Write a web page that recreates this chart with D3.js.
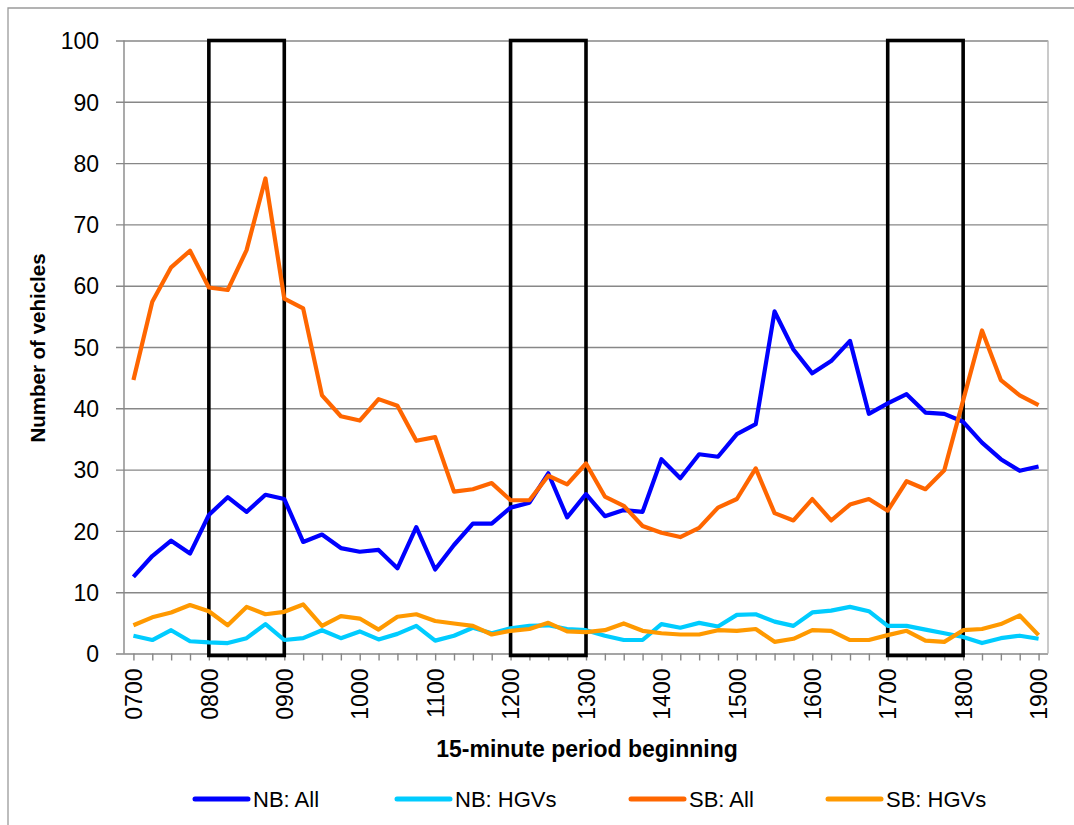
<!DOCTYPE html>
<html>
<head>
<meta charset="utf-8">
<script src="https://cdn.jsdelivr.net/npm/d3@7"></script>
<style>
  body { margin: 0; background: #fff; }
  text { font-family: "Liberation Sans", Arial, sans-serif; fill: #000; }
</style>
</head>
<body>
<svg width="1074" height="825"></svg>
<script>
// 15 minute periods, 0700 .. 1900
var periods = ["0700","0715","0730","0745","0800","0815","0830","0845","0900","0915","0930","0945",
               "1000","1015","1030","1045","1100","1115","1130","1145","1200","1215","1230","1245",
               "1300","1315","1330","1345","1400","1415","1430","1445","1500","1515","1530","1545",
               "1600","1615","1630","1645","1700","1715","1730","1745","1800","1815","1830","1845","1900"];

var tickLabels = ["0700","0800","0900","1000","1100","1200","1300","1400","1500","1600","1700","1800","1900"];
var yTicks = [0, 10, 20, 30, 40, 50, 60, 70, 80, 90, 100];

// peak hours boxed on the chart
var peakHours = [["0800", "0900"], ["1200", "1300"], ["1700", "1800"]];

var nbAll = [12.5,15.9,18.4,16.3,22.6,25.5,23.1,25.9,25.2,18.2,
             19.4,17.2,16.6,16.9,13.9,20.6,13.7,17.7,21.2,21.2,
             23.8,24.6,29.4,22.2,26.0,22.4,23.4,23.1,31.7,28.6,
             32.5,32.1,35.8,37.4,55.8,49.6,45.7,47.7,51.0,39.1,
             40.8,42.3,39.3,39.1,37.8,34.4,31.7,29.8,30.5];

var nbHgv = [2.9,2.2,3.8,2.0,1.8,1.7,2.5,4.8,2.2,2.5,
             3.8,2.5,3.6,2.3,3.2,4.5,2.1,2.9,4.2,3.3,
             4.1,4.5,4.6,4.0,3.8,2.9,2.2,2.2,4.8,4.2,
             5.0,4.4,6.3,6.4,5.2,4.5,6.7,7.0,7.6,6.9,
             4.5,4.5,3.9,3.3,2.7,1.7,2.5,2.9,2.4];

var sbAll = [44.6,57.4,63.0,65.7,59.7,59.3,65.8,77.5,57.9,56.3,
             42.1,38.7,38.0,41.5,40.4,34.7,35.3,26.4,26.8,27.8,
             25.0,25.0,29.0,27.6,31.0,25.6,24.1,20.8,19.7,19.0,
             20.5,23.8,25.2,30.2,22.9,21.7,25.2,21.7,24.3,25.2,
             23.3,28.1,26.8,29.9,41.3,52.7,44.6,42.1,40.5];

var sbHgv = [4.6,5.9,6.7,7.9,6.9,4.6,7.6,6.4,6.8,8.0,
             4.5,6.1,5.7,3.9,6.0,6.4,5.3,4.9,4.5,3.1,
             3.7,4.0,5.0,3.6,3.5,3.8,4.9,3.7,3.3,3.1,
             3.1,3.8,3.7,4.0,1.9,2.4,3.8,3.7,2.2,2.2,
             3.0,3.7,2.1,1.9,3.8,4.0,4.8,6.2,3.0];

var seriesNames = ["NB: All", "NB: HGVs", "SB: All", "SB: HGVs"];
var seriesColors = ["#0000ff", "#00ccff", "#ff6600", "#ff9900"];

var series = [nbAll, nbHgv, sbAll, sbHgv].map(function(vals, k) {
  return { name: seriesNames[k], color: seriesColors[k], values: vals };
});

// plot area box (note: "top" is taken by window.top, so prefix these)
var plotLeft = 124, plotRight = 1048, plotTop = 40.5, plotBottom = 653.5;

var svg = d3.select("svg");

// outer chart frame (right and bottom edges fall outside the picture)
svg.append("path")
    .attr("d", "M8,830 V8 H1080")
    .attr("fill", "none")
    .attr("stroke", "#9a9a9a")
    .attr("stroke-width", 1.3);

var x = d3.scalePoint()
          .domain(periods)
          .range([plotLeft, plotRight])
          .padding(0.5);

var y = d3.scaleLinear()
          .domain([0, 100])
          .range([plotBottom, plotTop]);

// horizontal gridlines + y ticks
var yAxis = d3.axisLeft(y)
              .tickValues(yTicks)
              .tickSize(-(plotRight - plotLeft))
              .tickPadding(25)
              .tickFormat(d3.format("d"));

var gy = svg.append("g")
    .attr("transform", "translate(" + plotLeft + ",0)")
    .call(yAxis);
gy.select(".domain").remove();
gy.selectAll(".tick line")
    .attr("x1", -8)
    .attr("stroke", "#878787")
    .attr("stroke-width", 1.4);
gy.selectAll(".tick text")
    .attr("x", -25)
    .style("font-size", "23px")
    .attr("dy", "0.36em");

// y axis line and right edge of plot area
svg.append("line")
    .attr("x1", plotLeft).attr("x2", plotLeft)
    .attr("y1", plotTop).attr("y2", plotBottom)
    .attr("stroke", "#878787").attr("stroke-width", 1.4);
svg.append("line")
    .attr("x1", plotRight).attr("x2", plotRight)
    .attr("y1", plotTop).attr("y2", plotBottom)
    .attr("stroke", "#b4b4b4").attr("stroke-width", 1.4);

// x axis: a tick at every period, label every hour
var xAxis = d3.axisBottom(x)
              .tickSize(7)
              .tickFormat(d => tickLabels.indexOf(d) >= 0 ? d : "");

var gx = svg.append("g")
    .attr("transform", "translate(0," + plotBottom + ")")
    .call(xAxis);
gx.select(".domain").remove();
gx.selectAll(".tick line")
    .attr("stroke", "#878787")
    .attr("stroke-width", 1.4);
gx.selectAll(".tick text")
    .style("font-size", "23px")
    .attr("text-anchor", "end")
    .attr("transform", "rotate(-90)")
    .attr("x", -15)
    .attr("y", 0)
    .attr("dy", "0.36em");

// peak hour boxes (behind the lines)
svg.selectAll(".peak")
  .data(peakHours)
  .enter()
    .append("rect")
    .classed("peak", true)
    .attr("x", d => x(d[0]))
    .attr("y", plotTop)
    .attr("width", d => x(d[1]) - x(d[0]))
    .attr("height", plotBottom - plotTop + 2)
    .attr("fill", "none")
    .attr("stroke", "#000")
    .attr("stroke-width", 3.6);

var line = d3.line()
             .x((d, i) => x(periods[i]))
             .y(d => y(d));

svg.selectAll(".series")
  .data(series)
  .enter()
    .append("path")
    .classed("series", true)
    .attr("d", d => line(d.values))
    .attr("fill", "none")
    .attr("stroke", d => d.color)
    .attr("stroke-width", 4.2)
    .attr("stroke-linejoin", "round");

// axis titles
svg.append("text")
    .attr("transform", "translate(45,348) rotate(-90)")
    .attr("text-anchor", "middle")
    .style("font-size", "20.5px")
    .style("font-weight", "bold")
    .text("Number of vehicles");

svg.append("text")
    .attr("x", 587)
    .attr("y", 757)
    .attr("text-anchor", "middle")
    .style("font-size", "23px")
    .style("font-weight", "bold")
    .text("15-minute period beginning");

// legend
var legendX = [195, 397, 631, 828];
var legend = svg.selectAll(".legend")
  .data(series)
  .enter()
    .append("g")
    .classed("legend", true)
    .attr("transform", (d, i) => "translate(" + legendX[i] + ",799)");

legend.append("line")
    .attr("x1", 0).attr("x2", 53)
    .attr("stroke", d => d.color)
    .attr("stroke-width", 5)
    .attr("stroke-linecap", "round");

legend.append("text")
    .attr("x", 58)
    .attr("dy", "0.36em")
    .style("font-size", "22px")
    .text(d => d.name);
</script>
</body>
</html>
